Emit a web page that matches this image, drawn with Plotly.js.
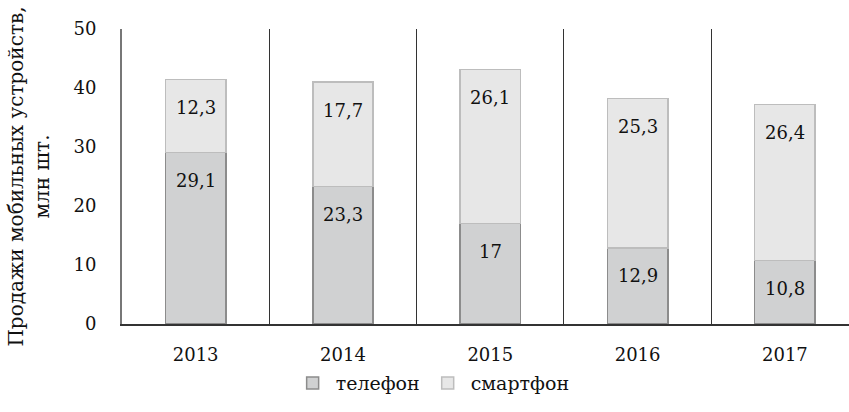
<!DOCTYPE html>
<html>
<head>
<meta charset="utf-8">
<script src="https://cdn.plot.ly/plotly-3.0.1.min.js"></script>
<style>html,body{margin:0;padding:0;background:#fff;overflow:hidden}#chart{width:849px;height:412px}</style>
</head>
<body>
<div id="chart"></div>
<script>
const years = ['2013', '2014', '2015', '2016', '2017'];
const phone = [29.1, 23.3, 17, 12.9, 10.8];
const smartphone = [12.3, 17.7, 26.1, 25.3, 26.4];
const seriesNames = ['телефон', 'смартфон'];
const yTicks = [0, 10, 20, 30, 40, 50];

const FONT = 'DejaVu Serif';
const TXT = '#111';
const fmt = v => String(v).replace('.', ',');

const traces = [
  {
    type: 'bar', name: seriesNames[0], x: years, y: phone,
    marker: {color: '#d0d1d2', line: {color: '#8c8c8c', width: 1.5}},
    hoverinfo: 'skip'
  },
  {
    type: 'bar', name: seriesNames[1], x: years, y: smartphone,
    marker: {color: '#e7e7e7', line: {color: '#bdbdbd', width: 1.5}},
    hoverinfo: 'skip'
  }
];

const annotations = [];
for (let i = 0; i < years.length; i++) {
  annotations.push({xref: 'x', yref: 'y', x: i, y: phone[i], text: fmt(phone[i]), showarrow: false,
    xanchor: 'center', yanchor: 'middle', yshift: -28, font: {family: FONT, size: 18, color: TXT}});
  annotations.push({xref: 'x', yref: 'y', x: i, y: phone[i] + smartphone[i], text: fmt(smartphone[i]), showarrow: false,
    xanchor: 'center', yanchor: 'middle', yshift: -28, font: {family: FONT, size: 18, color: TXT}});
}

const layout = {
  width: 849, height: 412,
  margin: {l: 122, r: 0, t: 28.5, b: 88},
  paper_bgcolor: '#fff', plot_bgcolor: '#fff',
  barmode: 'stack', bargap: 0.59,
  font: {family: FONT, size: 18, color: TXT},
  showlegend: true,
  legend: {orientation: 'h', xref: 'container', yref: 'container', x: 0.509, y: 0.07,
    xanchor: 'center', yanchor: 'middle', bgcolor: 'rgba(0,0,0,0)',
    font: {family: FONT, size: 19, color: TXT}, traceorder: 'normal', itemwidth: 36},
  xaxis: {
    type: 'category', range: [-0.5, 4.435], tickson: 'boundaries',
    showgrid: true, gridcolor: '#333', gridwidth: 1,
    showline: true, linecolor: '#333', linewidth: 1.5,
    ticks: '', ticklabelstandoff: 14, tickfont: {family: FONT, size: 18, color: TXT},
    zeroline: false, fixedrange: true
  },
  yaxis: {
    range: [0, 50], tickvals: yTicks, showgrid: false, zeroline: false,
    showline: true, linecolor: '#777', linewidth: 2,
    ticks: '', ticklabelstandoff: 20, tickfont: {family: FONT, size: 18, color: TXT},
    title: {text: 'Продажи мобильных устройств,<br>млн шт.', standoff: 18,
      font: {family: FONT, size: 20, color: TXT}},
    fixedrange: true
  },
  annotations: annotations
};

Plotly.newPlot('chart', traces, layout, {displayModeBar: false});
</script>
</body>
</html>
